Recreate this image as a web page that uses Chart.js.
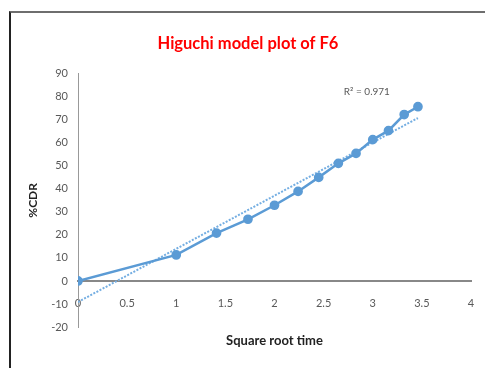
<!DOCTYPE html>
<html>
<head>
<meta charset="utf-8">
<script src="https://cdn.jsdelivr.net/npm/chart.js@4/dist/chart.umd.min.js"></script>
<style>
  body { margin: 0; background: #fff; }
  #wrap { position: relative; width: 485px; height: 368px; }
  #frame {
    position: absolute; left: 9px; top: 11px; right: 0; bottom: 0;
    border-left: 2px solid #222; border-top: 2px solid #6e6e6e;
    pointer-events: none;
  }
</style>
</head>
<body>
<div id="wrap">
  <canvas id="grafico" width="485" height="368"></canvas>
  <div id="frame"></div>
</div>
<script>
// square root of time (h^0.5) and cumulative drug release (%)
const raiz_tempo = [0, 1, 1.41, 1.73, 2, 2.24, 2.45, 2.65, 2.83, 3, 3.16, 3.32, 3.46]
const cdr = [0, 11.3, 20.8, 26.8, 32.9, 38.9, 45.0, 51.1, 55.4, 61.4, 65.3, 72.3, 75.7]
const texto_r2 = 'R² = 0.971'

const azul = '#5b9bd5'
const cinza = '#595959'

// linear trendline (least squares), like the spreadsheet one
function tendencia(xs, ys) {
    const n = xs.length
    let sx = 0, sy = 0, sxx = 0, sxy = 0
    for (let i = 0; i < n; i++) {
        sx += xs[i]; sy += ys[i]
        sxx += xs[i] * xs[i]; sxy += xs[i] * ys[i]
    }
    const m = (n * sxy - sx * sy) / (n * sxx - sx * sx)
    const b = (sy - m * sx) / n
    const xf = xs[n - 1]
    return [{x: xs[0], y: b + m * xs[0]}, {x: xf, y: b + m * xf}]
}

const pontos = raiz_tempo.map((x, i) => ({x: x, y: cdr[i]}))

const rotuloR2 = {
    id: 'rotuloR2',
    afterDatasetsDraw(chart) {
        const {ctx, scales} = chart
        ctx.save()
        ctx.font = '10px Lato'
        ctx.fillStyle = cinza
        ctx.textAlign = 'center'
        ctx.textBaseline = 'middle'
        ctx.fillText(texto_r2, scales.x.getPixelForValue(2.94), scales.y.getPixelForValue(82))
        ctx.restore()
    }
}

const config = {
    type: 'line',
    data: {
        datasets: [
            {
                data: pontos,
                borderColor: azul,
                backgroundColor: azul,
                borderWidth: 2.5,
                pointRadius: 3.6,
                pointHoverRadius: 3.6,
                tension: 0,
            },
            {
                data: tendencia(raiz_tempo, cdr),
                borderColor: '#74aee2',
                borderWidth: 2,
                borderDash: [2, 1.5],
                pointRadius: 0,
                tension: 0,
            },
        ]
    },
    options: {
        responsive: false,
        animation: false,
        devicePixelRatio: 1,
        layout: { padding: { left: 25, right: 14, top: 0, bottom: 0 } },
        plugins: {
            legend: { display: false },
            tooltip: { enabled: false },
            title: {
                display: true,
                text: 'Higuchi model plot of F6',
                color: '#ff0000',
                font: { family: 'Lato', size: 16.5, weight: 'bold' },
                padding: { top: 34, bottom: 20 },
            },
        },
        scales: {
            x: {
                type: 'linear',
                position: { y: 0 },
                min: 0,
                max: 4,
                afterFit(scale) { scale.height = 0 },
                // tick marks only reserve room under the zero line, they are not drawn
                grid: { display: false, drawTicks: true, tickLength: 13 },
                border: { display: true, color: '#888', width: 2 },
                ticks: {
                    stepSize: 0.5,
                    padding: 3,
                    maxRotation: 0,
                    color: cinza,
                    font: { family: 'Lato', size: 11 },
                    callback: v => String(v),
                },
            },
            xTitulo: {
                type: 'linear',
                position: 'bottom',
                min: 0,
                max: 4,
                afterFit(scale) { scale.height = 41 },
                grid: { display: false, drawTicks: false },
                border: { display: false },
                ticks: { display: false },
                title: {
                    display: true,
                    text: 'Square root time',
                    color: '#222',
                    font: { family: 'Lato', size: 13, weight: 'bold' },
                    padding: { top: 0, bottom: 19 },
                },
            },
            y: {
                min: -20,
                max: 90,
                afterFit(scale) { scale.width = 53 },
                grid: { display: false, drawTicks: false },
                border: { display: true, color: '#999', width: 1 },
                ticks: {
                    stepSize: 10,
                    padding: 10,
                    color: cinza,
                    font: { family: 'Lato', size: 11 },
                },
                title: {
                    display: true,
                    text: '%CDR',
                    color: '#222',
                    font: { family: 'Lato', size: 12, weight: 'bold' },
                    padding: { top: 1, bottom: 0 },
                },
            },
        },
    },
    plugins: [rotuloR2],
}

const graficoHiguchi = new Chart(document.getElementById('grafico'), config)
</script>
</body>
</html>
